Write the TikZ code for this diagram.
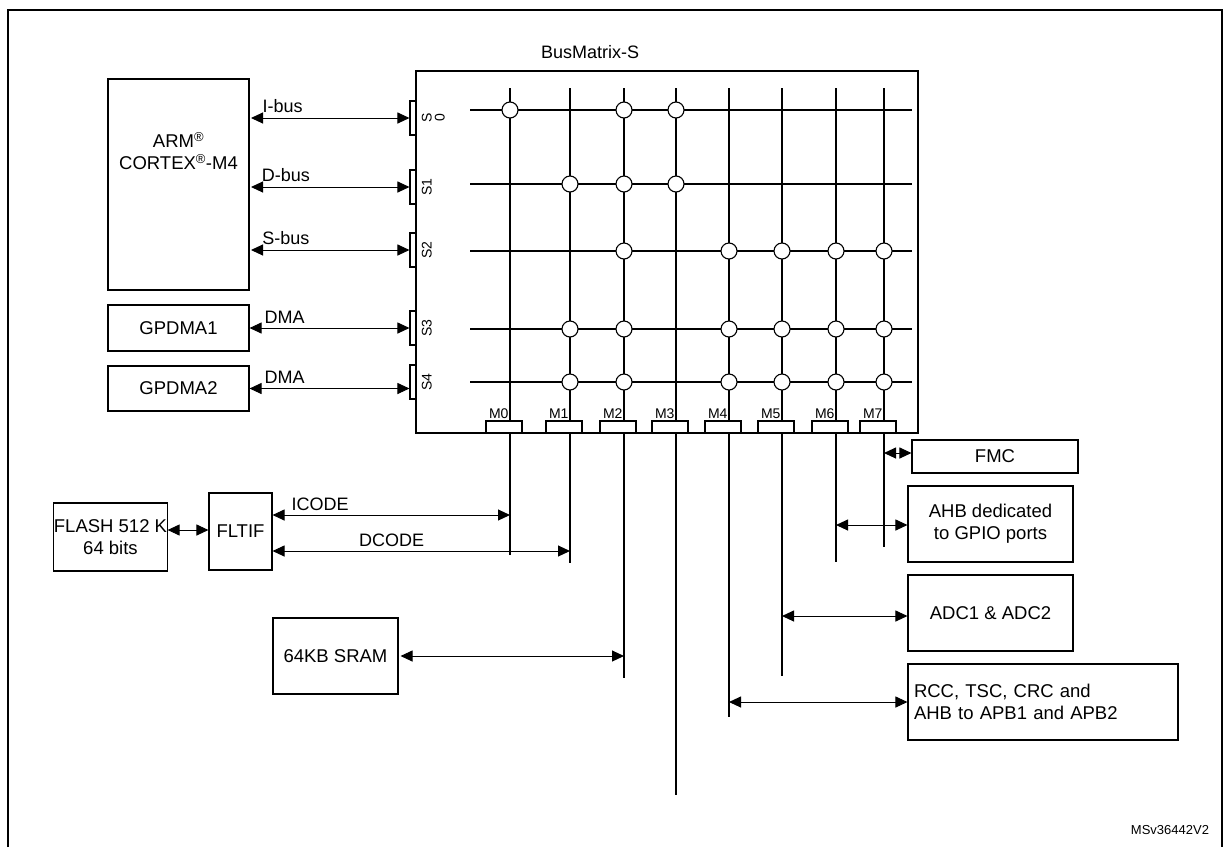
\documentclass[tikz,border=0pt]{standalone}
\usepackage{fontspec}
\setmainfont{Liberation Sans}
\usetikzlibrary{arrows.meta,positioning}

\tikzset{
  blk/.style={draw,line width=1.1pt,inner sep=0pt,align=center,font=\fontsize{18.5}{22}\selectfont},
  sport/.style={draw,line width=1.1pt,fill=white,minimum width=6pt,minimum height=34pt,inner sep=0pt},
  mport/.style={draw,line width=1.1pt,fill=white,minimum width=36pt,minimum height=12pt,inner sep=0pt},
  xpt/.style={circle,draw,line width=1.1pt,fill=white,minimum size=16pt,inner sep=0pt},
  bus/.style={line width=1pt,{Triangle[length=12pt,width=11pt]}-{Triangle[length=12pt,width=11pt]}},
  lbl/.style={font=\fontsize{18}{20}\selectfont},
}

\begin{document}
\begin{tikzpicture}[x=1pt,y=-1pt,line width=1.1pt]
\useasboundingbox (0,0) rectangle (1230,847);

% outer frame
\draw (8,847) -- (8,10) -- (1222,10) -- (1222,847);

% bus matrix
\node[draw,line width=1.1pt,minimum width=502pt,minimum height=362pt,inner sep=0pt] (bm) at (667,252) {};
\node[lbl] (bmlbl) at (590,52) {BusMatrix-S};

% masters
\node[blk,minimum width=141pt,minimum height=211pt] (cpu) at (178.5,184.5) {};
\node[blk,draw=none,anchor=north] (cputxt) at (178.5,132)
  {ARM\textsuperscript{\textregistered}\\CORTEX\textsuperscript{\textregistered}-M4};
\node[blk,minimum width=141pt,minimum height=46pt] (dma1) at (178.5,328) {GPDMA1};
\node[blk,minimum width=141pt,minimum height=45pt] (dma2) at (178.5,388.5) {GPDMA2};

% slave ports
\foreach \i/\y/\t in {0/118/{S\\0},1/187/S1,2/250/S2,3/328/S3,4/382/S4}{
  \node[sport] (s\i) at (413,\y) {};
  \node[rotate=90,font=\fontsize{14}{13}\selectfont,align=center,anchor=north] (sl\i) at (418,\y) {\t};
}
\coordinate (c0) at (251,118);
\coordinate (c1) at (251,187);
\coordinate (c2) at (251,250);
\draw[bus] (c0) -- (s0.west) node[lbl,pos=0.2,above=1pt] (ibus) {I-bus};
\draw[bus] (c1) -- (s1.west) node[lbl,pos=0.22,above=1pt] (dbus) {D-bus};
\draw[bus] (c2) -- (s2.west) node[lbl,pos=0.22,above=1pt] (sbus) {S-bus};
\draw[bus] (dma1.east) -- (s3.west) node[lbl,pos=0.22,above=1pt] (dmal1) {DMA};
\draw[bus] (dma2.east) -- (s4.west |- dma2.east) node[lbl,pos=0.22,above=1pt] (dmal2) {DMA};

% crossbar rows and columns
\foreach \r/\y in {0/110,1/184,2/251,3/329,4/382}
  \draw (470,\y) -- (912,\y);
\foreach \m/\x/\e in {0/510/555,1/570/563,2/624/678,3/676/795,4/729/717,5/782/676,6/836/562,7/884/547}{
  \draw (\x,88) -- (\x,\e);
  \coordinate (m\m end) at (\x,\e);
  \node[mport] (mp\m) at (\x-6,427) {};
  \node[font=\fontsize{14}{13}\selectfont,anchor=south east,inner sep=1pt] (ml\m) at (\x,420) {M\m};
}
\draw (bm.south west) -- (bm.south east);

% crossing points
\foreach \x/\y in {510/110,624/110,676/110,
                   570/184,624/184,676/184,
                   624/251,729/251,782/251,836/251,884/251,
                   570/329,624/329,729/329,782/329,836/329,884/329,
                   570/382,624/382,729/382,782/382,836/382,884/382}
  \node[xpt] at (\x,\y) {};

% flash side
\node[blk,minimum width=101pt,minimum height=68pt] (flash) at (110.5,537) {FLASH 512 K\\64 bits};
\node[blk,minimum width=63pt,minimum height=77pt] (fltif) at (240.5,531.5) {FLTIF};
\draw[bus] (flash.east |- 0,530) -- (fltif.west |- 0,530);
\coordinate (icode) at (510,515);
\coordinate (dcode) at (570,551);
\draw[bus] (fltif.east |- icode) -- (icode) node[lbl,pos=0.2,above=1pt] (icl) {ICODE};
\draw[bus] (fltif.east |- dcode) -- (dcode) node[lbl,pos=0.4,above=1pt] (dcl) {DCODE};

% SRAM
\node[blk,minimum width=125pt,minimum height=76pt] (sram) at (335.5,656) {64KB SRAM};
\coordinate (sramc) at (624,656);
\draw[bus] (sram.east) ++(2,0) -- (sramc);

% slaves on the right
\node[blk,minimum width=166pt,minimum height=33pt] (fmc) at (995,456.5) {FMC};
\node[blk,minimum width=165pt,minimum height=76pt] (gpio) at (990.5,524) {AHB dedicated\\to GPIO ports};
\node[blk,minimum width=165pt,minimum height=76pt] (adc) at (990.5,613) {ADC1 \& ADC2};
\node[blk,minimum width=270pt,minimum height=76pt,align=left,text width=258pt] (rcc) at (1043,702)
  {RCC, TSC, CRC and\\AHB to APB1 and APB2};
\draw[bus] (884,453) -- (fmc.west |- 0,453);
\draw[bus] (836,525) -- (gpio.west |- 0,525);
\draw[bus] (782,616) -- (adc.west |- 0,616);
\draw[bus] (729,702) -- (rcc.west |- 0,702);

\node[font=\fontsize{13}{12}\selectfont] (ref) at (1170,830) {MSv36442V2};
\end{tikzpicture}
\end{document}
